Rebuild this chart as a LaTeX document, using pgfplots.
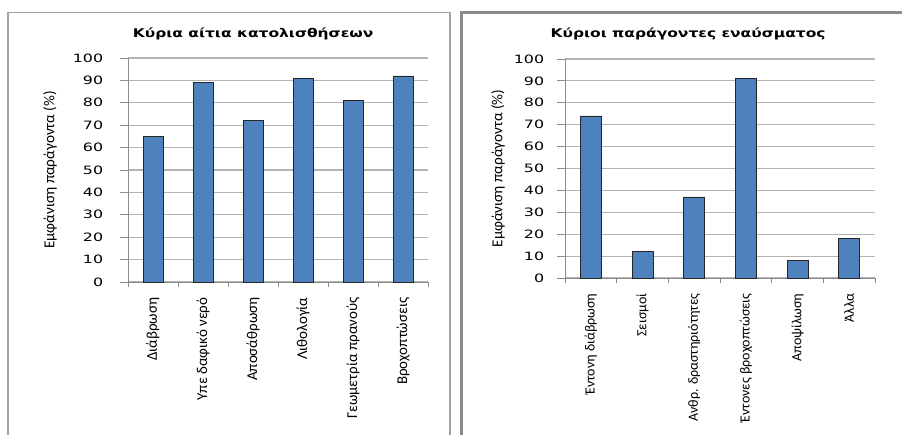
\documentclass[border=0pt]{standalone}
\usepackage{pgfplots}
\pgfplotsset{compat=1.18}
\usepackage{fontspec}
\setmainfont{DejaVu Sans}
\newfontfamily\catfont{Carlito}
\newfontfamily\numfont{DejaVu Sans}

\definecolor{barblue}{HTML}{4F81BD}
\definecolor{gridgray}{HTML}{B4B4B4}
\definecolor{axisgray}{HTML}{8C8C8C}
\definecolor{framegray}{HTML}{8A8A8A}

% Left panel data: main causes of landslides
\pgfplotstableread{
x y
0 65
1 89
2 72
3 91
4 81
5 92
}\causes

% Right panel data: main triggering factors
\pgfplotstableread{
x y
0 74
1 12
2 37
3 91
4 8
5 18
}\triggers

\pgfplotsset{
  panel/.style={
    scale only axis,
    ybar, bar width=20pt,
    ymin=0, ymax=100, ytick={0,10,...,100},
    xmin=-0.5, xmax=5.5,
    xtick={0,...,5},
    minor xtick={-0.5,0.5,...,5.5},
    axis x line*=bottom, axis y line*=left,
    axis line style={axisgray, line width=0.9pt},
    tick style={axisgray, line width=0.9pt},
    tick align=outside,
    major tick length=8pt, minor tick length=5pt,
    major x tick style={draw=none},
    ymajorgrids, grid style={gridgray, line width=1.1pt},
    /pgf/number format/assume math mode=true,
    yticklabel shift=8pt,
    yticklabel style={font=\numfont\fontsize{11.5}{13}\selectfont, text=black, xscale=1.38},
    xticklabel shift=4pt,
    xticklabel style={rotate=90, anchor=east, text=black},
    ylabel={Εμφάνιση παράγοντα (\%)},
    ylabel style={font=\catfont\fontsize{15.2}{17}\selectfont, rotate=0, anchor=center},
    title style={font=\bfseries\fontsize{12}{14}\selectfont, anchor=center, xscale=1.29},
    clip=false,
  },
  bars/.style={fill=barblue, draw=black!85, line width=0.8pt},
}

\begin{document}
\begin{tikzpicture}[x=1pt, y=1pt]
  \useasboundingbox (0,0) rectangle (902,434);
  \begin{scope}
    \clip (0,0) rectangle (902,434);
    % panel frames (open at the bottom edge)
    \draw[framegray!80, line width=1.6pt] (8,-5) -- (8,421.5) -- (450,421.5) -- (450,-5);
    \draw[framegray, line width=2.2pt] (461.5,-5) -- (461.5,421.5) -- (910,421.5);
  \end{scope}

  \begin{axis}[panel,
      at={(128pt,152pt)}, anchor=south west,
      width=300pt, height=224pt,
      yticklabel shift=12pt,
      xticklabel style={font=\catfont\fontsize{15}{17}\selectfont},
      xticklabels={Διάβρωση, Υπε δαφικό νερό, Αποσάθρωση, Λιθολογία, Γεωμετρία πρανούς, Βροχοπτώσεις},
      title={Κύρια αίτια κατολισθήσεων},
      title style={at={(axis description cs:0.417,1.08)}},
      ylabel style={at={(axis description cs:-0.26,0.5)}},
    ]
    \addplot[bars] table[x=x, y=y] {\causes};
  \end{axis}

  \begin{axis}[panel,
      at={(565pt,156pt)}, anchor=south west,
      width=310pt, height=219pt,
      bar width=21pt,
      xticklabel style={font=\catfont\fontsize{14}{16}\selectfont},
      xticklabels={Έντονη διάβρωση, Σεισμοί, Ανθρ. δραστηριότητες, Έντονες βροχοπτώσεις, Αποψίλωση, Άλλα},
      title={Κύριοι παράγοντες εναύσματος},
      title style={at={(axis description cs:0.397,1.087)}},
      ylabel style={at={(axis description cs:-0.216,0.5)}},
    ]
    \addplot[bars] table[x=x, y=y] {\triggers};
  \end{axis}
\end{tikzpicture}
\end{document}
